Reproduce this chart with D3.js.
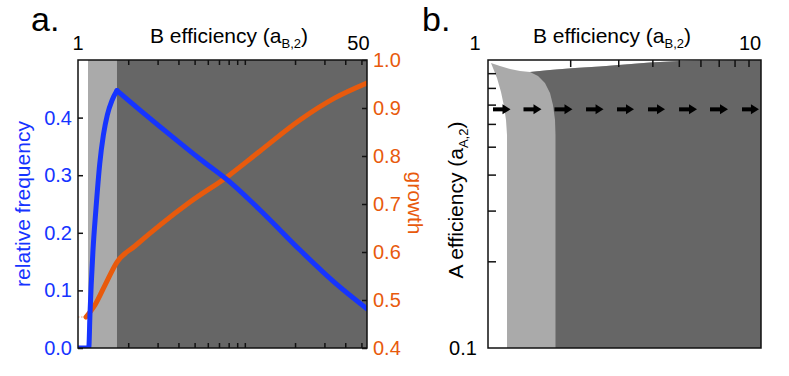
<!DOCTYPE html>
<html>
<head>
<meta charset="utf-8">
<script src="https://d3js.org/d3.v7.min.js"></script>
<style>
  body { margin: 0; background: #fff; }
  text { font-family: "Liberation Sans", Arial, sans-serif; }
</style>
</head>
<body>
<div id="chart"></div>
<script>
// ---- panel a data ----
var xTicksA = [2, 3, 4, 5, 6, 7, 8, 9, 10, 20, 30, 40, 50];
var freqTicks = [0.0, 0.1, 0.2, 0.3, 0.4];
var growthTicks = [0.4, 0.5, 0.6, 0.7, 0.8, 0.9, 1.0];
var bandEdges = [1, 1.148, 1.713, 54];          // white | light | dark
var bandColors = ["#ffffff", "#aaaaaa", "#666666"];

// relative frequency (blue)
var freqA = [1, 1.15, 1.16, 1.18, 1.2, 1.23, 1.28, 1.35, 1.42, 1.5, 1.6, 1.713,
             2.353, 3.562, 5.387, 8.38, 13.22, 21.42, 34.74, 54];
var freqV = [0, 0, 0.0, 0.06, 0.11, 0.17, 0.24, 0.32, 0.37, 0.405, 0.43, 0.447,
             0.413, 0.370, 0.328, 0.285, 0.231, 0.170, 0.113, 0.068];

// growth (orange)
var growA = [1.117, 1.264, 1.452, 1.713, 2.196, 3.10, 4.69, 7.93, 12.3, 21.4, 34.7, 54];
var growV = [0.4646, 0.4896, 0.531, 0.579, 0.6125, 0.656, 0.704, 0.758, 0.810, 0.875, 0.921, 0.952];

// ---- panel b data ----
var xTicksB = [2, 3, 4, 5, 6, 7, 8, 9];
var yTicksB = [0.2, 0.3, 0.4, 0.5, 0.6, 0.7, 0.8, 0.9];
// white / light boundary (bottom to top)
var leftEdgeA = [1.174, 1.174, 1.164, 1.144, 1.116, 1.0789, 1.0256];
var leftEdgeV = [0.1, 0.549, 0.619, 0.692, 0.774, 0.866, 0.976];
// upper boundary of shaded region (left to right)
var topA = [1.0256, 1.106, 1.204, 1.31, 1.425, 1.687, 2.083, 2.572, 3.176, 3.922, 5.05, 7.08, 10];
var topV = [0.976, 0.953, 0.931, 0.916, 0.908, 0.923, 0.938, 0.949, 0.965, 0.980, 0.992, 0.996, 1.0];
// light / dark boundary (bottom to top)
var midEdgeA = [1.767, 1.767, 1.760, 1.730, 1.687, 1.617, 1.525, 1.425];
var midEdgeV = [0.1, 0.549, 0.619, 0.698, 0.768, 0.832, 0.880, 0.908];
// arrows along a_A = 0.674
var arrowY = 0.674;
var arrowStart = [1.043, 1.349, 1.752, 2.286, 2.968, 3.856, 5.01, 6.505, 8.52];
var arrowEnd   = [1.209, 1.570, 2.039, 2.650, 3.426, 4.45, 5.83, 7.57, 9.83];

var blue = "#1634ff", orange = "#e85a0c";

var svg = d3.select("#chart").append("svg")
    .attr("width", 789).attr("height", 376);

// ================= panel a =================
var xA = d3.scaleLog().domain([1, 54]).range([78, 367]);
var yF = d3.scaleLinear().domain([0, 0.5]).range([348, 60]);
var yG = d3.scaleLinear().domain([0.4, 1.0]).range([348, 60]);

var ga = svg.append("g");
ga.append("clipPath").attr("id", "clipA").append("rect")
    .attr("x", 78).attr("y", 60).attr("width", 289).attr("height", 288);

ga.selectAll("rect.band").data(bandColors).enter().append("rect")
    .attr("class", "band")
    .attr("x", function(d, i) { return xA(bandEdges[i]); })
    .attr("width", function(d, i) { return xA(bandEdges[i + 1]) - xA(bandEdges[i]); })
    .attr("y", yF(0.5)).attr("height", yF(0) - yF(0.5))
    .attr("fill", function(d) { return d; });

var plotA = ga.append("g").attr("clip-path", "url(#clipA)");

// dotted orange lead-in
plotA.append("line")
    .attr("x1", xA(1)).attr("x2", xA(growA[0]))
    .attr("y1", yG(growV[0])).attr("y2", yG(growV[0]))
    .attr("stroke", "#f0a070").attr("stroke-width", 1.2)
    .attr("stroke-dasharray", "1.5,1.5");

var growPts = growA.map(function(a, i) { return [a, growV[i]]; });
plotA.append("path").datum(growPts)
    .attr("fill", "none").attr("stroke", orange).attr("stroke-width", 5)
    .attr("stroke-linecap", "round")
    .attr("d", d3.line().curve(d3.curveMonotoneX)
        .x(function(d) { return xA(d[0]); }).y(function(d) { return yG(d[1]); }));

var freqPts = freqA.map(function(a, i) { return [a, freqV[i]]; });
var peak = d3.maxIndex(freqV);
var blueLine = d3.line().curve(d3.curveMonotoneX)
    .x(function(d) { return xA(d[0]); }).y(function(d) { return yF(d[1]); });
[freqPts.slice(0, peak + 1), freqPts.slice(peak)].forEach(function(seg) {
  plotA.append("path").datum(seg)
      .attr("fill", "none").attr("stroke", blue).attr("stroke-width", 5)
      .attr("stroke-linejoin", "round").attr("stroke-linecap", "round")
      .attr("d", blueLine);
});

// frame
ga.append("rect").attr("x", 78).attr("y", 60).attr("width", 289).attr("height", 288)
    .attr("fill", "none").attr("stroke", "#111").attr("stroke-width", 1.5);

function styleAxis(g, col) {
  g.select(".domain").remove();
  g.selectAll(".tick line").attr("stroke", "#111").attr("stroke-width", 1.5);
  g.selectAll(".tick text").attr("fill", col).style("font-size", "20px")
      .style("font-family", '"Liberation Sans", Arial, sans-serif');
}

ga.append("g").attr("transform", "translate(78,0)")
    .call(d3.axisLeft(yF).tickValues(freqTicks).tickSizeInner(-5).tickSizeOuter(0)
        .tickPadding(6).tickFormat(d3.format(".1f")))
    .call(styleAxis, blue);
ga.append("g").attr("transform", "translate(367,0)")
    .call(d3.axisRight(yG).tickValues(growthTicks).tickSizeInner(-5).tickSizeOuter(0)
        .tickPadding(6).tickFormat(d3.format(".1f")))
    .call(styleAxis, orange);
ga.append("g").attr("transform", "translate(0,60)")
    .call(d3.axisTop(xA).tickValues(xTicksA).tickSizeInner(-5).tickSizeOuter(0).tickFormat(""))
    .call(styleAxis, "#000");
ga.append("g").attr("transform", "translate(0,348)")
    .call(d3.axisBottom(xA).tickValues(xTicksA).tickSizeInner(-5).tickSizeOuter(0).tickFormat(""))
    .call(styleAxis, "#000");

ga.append("text").attr("x", xA(1)).attr("y", 50).attr("text-anchor", "middle")
    .style("font-size", "20px").text("1");
ga.append("text").attr("x", xA(50) - 3).attr("y", 50).attr("text-anchor", "middle")
    .style("font-size", "20px").text("50");

function titleB(sel, sub) {
  sel.style("font-size", "21px").text("B efficiency (a");
  sel.append("tspan").attr("dy", 5).style("font-size", "13px").text(sub);
  sel.append("tspan").attr("dy", -5).text(")");
}
ga.append("text").attr("x", 229).attr("y", 43).attr("text-anchor", "middle")
    .call(titleB, "B,2");

ga.append("text").attr("transform", "translate(30,204) rotate(-90)")
    .attr("text-anchor", "middle").attr("fill", blue).style("font-size", "21px")
    .text("relative frequency");
ga.append("text").attr("transform", "translate(408,203) rotate(90)")
    .attr("text-anchor", "middle").attr("fill", orange).style("font-size", "21px")
    .text("growth");

svg.append("text").attr("x", 31).attr("y", 31).style("font-size", "34px").text("a.");

// ================= panel b =================
var xB = d3.scaleLog().domain([1, 10]).range([488, 761]);
var yB = d3.scaleLog().domain([0.1, 1]).range([348, 60]);
var gb = svg.append("g");
gb.append("clipPath").attr("id", "clipB").append("rect")
    .attr("x", 488).attr("y", 60).attr("width", 273).attr("height", 288);
var plotB = gb.append("g").attr("clip-path", "url(#clipB)");

var poly = d3.line().x(function(d) { return xB(d[0]); }).y(function(d) { return yB(d[1]); });
var leftPts = leftEdgeA.map(function(a, i) { return [a, leftEdgeV[i]]; });
var topPts = topA.map(function(a, i) { return [a, topV[i]]; });
var midPts = midEdgeA.map(function(a, i) { return [a, midEdgeV[i]]; });
var corner = [[10, 0.1]];

plotB.append("path")
    .datum(leftPts.concat(topPts.slice(1), corner))
    .attr("fill", "#aaaaaa").attr("d", function(d) { return poly(d) + "Z"; });
var joinIdx = topA.indexOf(midEdgeA[midEdgeA.length - 1]);
plotB.append("path")
    .datum(midPts.concat(topPts.slice(joinIdx + 1), corner))
    .attr("fill", "#666666").attr("d", function(d) { return poly(d) + "Z"; });

// arrows
var arrows = plotB.selectAll("g.arrow").data(arrowStart).enter().append("g").attr("class", "arrow");
arrows.append("line")
    .attr("x1", function(d) { return xB(d); })
    .attr("x2", function(d, i) { return xB(arrowEnd[i]) - 6; })
    .attr("y1", yB(arrowY)).attr("y2", yB(arrowY))
    .attr("stroke", "#000").attr("stroke-width", 4);
arrows.append("path")
    .attr("d", function(d, i) {
      var x = xB(arrowEnd[i]), y = yB(arrowY);
      return "M" + x + "," + y + "L" + (x - 8) + "," + (y - 5) + "L" + (x - 8) + "," + (y + 5) + "Z";
    })
    .attr("fill", "#000");

gb.append("rect").attr("x", 488).attr("y", 60).attr("width", 273).attr("height", 288)
    .attr("fill", "none").attr("stroke", "#111").attr("stroke-width", 1.5);

gb.append("g").attr("transform", "translate(0,60)")
    .call(d3.axisTop(xB).tickValues(xTicksB).tickSizeInner(-7).tickSizeOuter(0).tickFormat(""))
    .call(styleAxis, "#000");
gb.append("g").attr("transform", "translate(488,0)")
    .call(d3.axisLeft(yB).tickValues(yTicksB).tickSizeInner(-8).tickSizeOuter(0).tickFormat(""))
    .call(styleAxis, "#000");

gb.append("text").attr("x", xB(1) - 13).attr("y", 50).attr("text-anchor", "middle")
    .style("font-size", "20px").text("1");
gb.append("text").attr("x", xB(10) - 11).attr("y", 50).attr("text-anchor", "middle")
    .style("font-size", "20px").text("10");
gb.append("text").attr("x", 463).attr("y", yB(0.1)).attr("dy", "0.35em")
    .attr("text-anchor", "middle").style("font-size", "20px").text("0.1");

gb.append("text").attr("x", 612).attr("y", 43).attr("text-anchor", "middle")
    .call(titleB, "B,2");

var yt = gb.append("text").attr("transform", "translate(463,200) rotate(-90)")
    .attr("text-anchor", "middle").style("font-size", "21px").text("A efficiency (a");
yt.append("tspan").attr("dy", 5).style("font-size", "13px").text("A,2");
yt.append("tspan").attr("dy", -5).text(")");

svg.append("text").attr("x", 422).attr("y", 31).style("font-size", "34px").text("b.");
</script>
</body>
</html>
